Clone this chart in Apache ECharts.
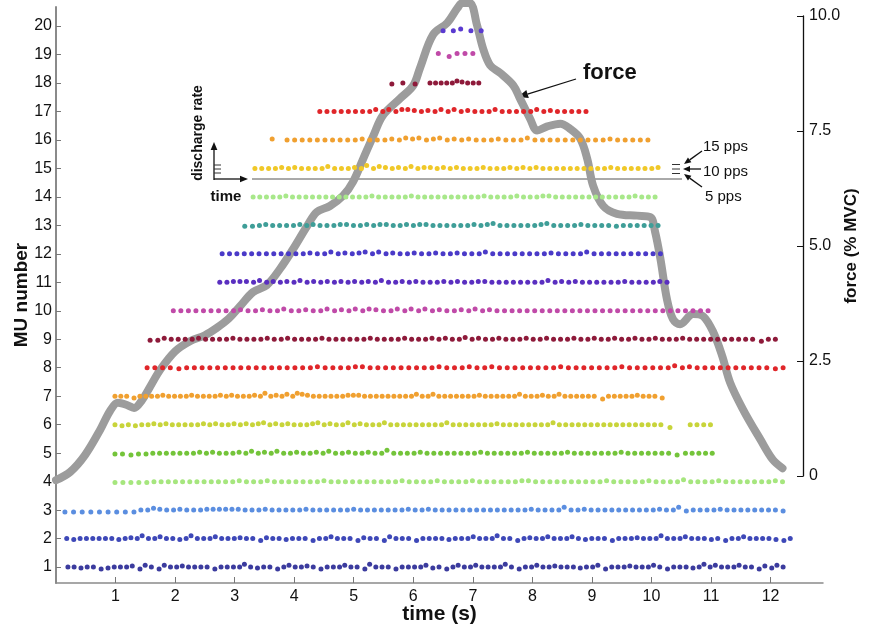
<!DOCTYPE html>
<html>
<head>
<meta charset="utf-8">
<script src="https://cdn.jsdelivr.net/npm/echarts@6/dist/echarts.min.js"></script>
<style>
  html, body { margin: 0; padding: 0; background: #fff; }
  #chart { width: 870px; height: 631px; }
</style>
</head>
<body>
<div id="chart"></div>
<script>
// motor unit rows, bottom to top
const muNumbers = [1, 2, 3, 4, 5, 6, 7, 8, 9, 10, 11, 12, 13, 14, 15, 16, 17, 18, 19, 20];
const muColors = [
    '#3b3b9e', '#3e48b8', '#5b8ee0', '#a6e67e', '#74c43a',
    '#c8d43a', '#f0a030', '#e0262a', '#8e1a3a', '#c04aa8',
    '#5a2fc0', '#4a3ac8', '#3f9e98', '#a8e88a', '#f0c828',
    '#f0a030', '#e0262a', '#8e1a3a', '#c04aa8', '#5a3ad0'
];
// spike trains: [onset s, offset s, instantaneous rate codes (pps = 5 + digit)]
const muTrains = [
    [[0.20, 12.21, '5545534555 6375375565 5553555585 4553575565 3555755385 5535555745 3575575555 8535575565 5545573555 6555753555 4585755575 536475']],
    [[0.18, 12.33, '5455555545 6585575545 8555755565 5365545553 5575553655 3755535555 4555755585 5356557555 7545553555 6555855575 5545355755 55435']],
    [[0.15, 12.21, '3333333335 5765565556 6666655565 5555655555 5655555556 5565555555 5555555655 5585565555 5555556558 4555565555 55554']],
    [[0.99, 12.20, '4444455555 5555555655 5655555556 5555555555 6555565555 6555555665 5555555556 5555565555 7555565555 55565']],
    [[0.99, 10.43, '4434455555 5565655565 7565755655 6575565565 5855556555 5555565555 5565555565 5555556555 55553'], [10.57, 11.02, '55555']],
    [[0.99, 10.31, '5454556565 5555656556 5656756565 5567565575 6555755555 5555755555 5565555555 5755555555 5555555552'], [10.65, 10.99, '5555']],
    [[0.99, 10.18, '5553555565 5556555565 6555658565 7587655555 5666555555 5557557555 5555655555 5755565575 5555525555 565553']],
    [[1.53, 12.21, '5555455555 5555555555 5565555665 5555555565 5565565555 5555655555 5565555557 5655555555 5545']],
    [[1.58, 12.08, '4465555655 5565555655 6555565555 5565555655 5656557565 5655565565 5565565565 5655655565 5555555553 55']],
    [[1.97, 10.95, '5555555556 5565575565 5756575765 5757575655 6575655555 5555555555 5555555555 5555']],
    [[2.75, 10.26, '5566657565 6575656565 6565755656 5556565566 5555555575 6565555556 555565']],
    [[2.79, 10.15, '5555555555 5565575656 7575655655 6556555755 5555556555 5755555555 55']],
    [[3.17, 10.11, '4456555565 6555665565 6655656655 5555656755 5555675555 6555545555 55']],
    [[3.31, 10.06, '5555565555 5555555565 5555655555 5555565555 6555665555 5555555565 55']],
    [[3.34, 10.11, '5555656555 5755565857 6565756656 5655565556 5656555555 5555655555 56']],
    [[3.63, 3.63, '6'], [3.88, 9.94, '5555555555 6555657675 6756565556 5557555555 5555655555']],
    [[4.43, 8.90, '5555555575 7577656575 7565557555 5575655555']],
    [[5.64, 6.03, '454'], [6.28, 7.10, '5555576555']],
    [[6.42, 7.00, '63666']],
    [[6.50, 7.14, '00200']]
];
// force trace (% MVC) against time (s)
const forceTime = [
    0.0, 0.24, 0.49, 0.74, 0.91, 1.04, 1.18, 1.31, 1.44, 1.58, 1.75, 2.0, 2.25, 2.5, 2.7, 2.9,
    3.09, 3.31, 3.54, 3.76, 3.98, 4.22, 4.38, 4.6, 4.82, 4.99, 5.16, 5.33, 5.49, 5.78, 6.0, 6.11,
    6.33, 6.57, 6.74, 6.82, 6.95, 7.07, 7.17, 7.29, 7.46, 7.68, 7.79, 7.96, 8.08, 8.25, 8.47, 8.63,
    8.8, 8.92, 9.02, 9.19, 9.42, 9.76, 9.98, 10.06, 10.15, 10.26, 10.36, 10.48, 10.7, 10.87, 11.04,
    11.19, 11.32, 11.54, 11.83, 12.04, 12.2
];
const forceValues = [
    -0.09, 0.09, 0.46, 1.0, 1.42, 1.59, 1.55, 1.48, 1.64, 1.94, 2.31, 2.71, 2.93, 3.06, 3.22, 3.42,
    3.69, 4.0, 4.15, 4.5, 4.93, 5.44, 5.74, 5.87, 6.09, 6.4, 6.9, 7.4, 7.84, 8.21, 8.49, 8.86,
    9.59, 9.85, 10.17, 10.28, 10.28, 9.8, 9.3, 8.93, 8.76, 8.49, 8.21, 7.77, 7.51, 7.6, 7.66, 7.55,
    7.34, 6.9, 6.31, 5.87, 5.7, 5.66, 5.63, 5.31, 4.72, 3.84, 3.41, 3.3, 3.52, 3.47, 3.12,
    2.6, 2.03, 1.44, 0.79, 0.35, 0.17
];
const timeTicks = [1, 2, 3, 4, 5, 6, 7, 8, 9, 10, 11, 12];

const FONT = '"Liberation Sans", Arial, sans-serif';
const PLOT_LEFT = 56, PLOT_RIGHT = 47, FORCE_RIGHT = 67;
const X_MAX = 12.88;
// force panel ends at its own axis, so its time range is cut to the same scale
const X_MAX_FORCE = X_MAX * (870 - PLOT_LEFT - FORCE_RIGHT) / (870 - PLOT_LEFT - PLOT_RIGHT);

// spike times: gaps proportional to 1/rate, fitted to the train's on/off times
function trainPoints(mu, segs) {
    const pts = [];
    segs.forEach(([t0, t1, codes]) => {
        const rates = codes.replace(/\s/g, '').split('').map(c => 5 + Number(c));
        const gaps = rates.slice(1).map(r => 1 / r);
        const total = gaps.reduce((a, b) => a + b, 0) || 1;
        let t = t0;
        rates.forEach((r, i) => {
            if (i > 0) t += gaps[i - 1] / total * (t1 - t0);
            pts.push([t, mu + (r - 10) / 30]);
        });
    });
    return pts;
}

function arrow(x1, y1, x2, y2, h) {
    const len = Math.hypot(x2 - x1, y2 - y1);
    const ux = (x2 - x1) / len, uy = (y2 - y1) / len, w = h * 0.42;
    const bx = x2 - ux * h, by = y2 - uy * h;
    return [
        { type: 'line', shape: { x1: x1, y1: y1, x2: bx, y2: by }, style: { stroke: '#111', lineWidth: 1.3 } },
        { type: 'polygon', shape: { points: [[x2, y2], [bx - uy * w, by + ux * w], [bx + uy * w, by - ux * w]] }, style: { fill: '#111' } }
    ];
}

function label(text, x, y, size, bold, align, rot) {
    return {
        type: 'text', x: x, y: y, rotation: rot || 0,
        style: {
            text: text, fill: '#111', fontFamily: FONT, fontSize: size,
            fontWeight: bold ? 'bold' : 'normal', align: align || 'left', verticalAlign: 'middle'
        }
    };
}

const chart = echarts.init(document.getElementById('chart'));

const scatterSeries = muNumbers.map((mu, i) => ({
    type: 'scatter',
    xAxisIndex: 0, yAxisIndex: 0,
    data: trainPoints(mu, muTrains[i]),
    symbolSize: 5,
    itemStyle: { color: muColors[i], opacity: 1 },
    z: 3
}));

const graphics = [].concat(
    label('force', 583, 73, 22, true),
    arrow(576, 79, 518, 97, 10),
    // inset: discharge rate / time axes
    arrow(214, 180, 214, 142, 8),
    arrow(214, 179, 248, 179, 8),
    [165, 169, 173].map(y => ({ type: 'line', shape: { x1: 214, y1: y, x2: 221, y2: y }, style: { stroke: '#333', lineWidth: 1 } })),
    label('discharge rate', 198, 133, 14, true, 'center', Math.PI / 2),
    label('time', 226, 197, 15, true, 'center'),
    { type: 'line', shape: { x1: 252, y1: 179, x2: 682, y2: 179 }, style: { stroke: '#555', lineWidth: 1 } },
    [164.5, 169, 173.5].map(y => ({ type: 'line', shape: { x1: 672, y1: y, x2: 680, y2: y }, style: { stroke: '#333', lineWidth: 1 } })),
    arrow(702, 151, 684, 164, 7),
    arrow(701, 169, 683, 169, 7),
    arrow(702, 187, 684, 174, 7),
    label('15 pps', 703, 147, 15, false),
    label('10 pps', 703, 172, 15, false),
    label('5 pps', 705, 197, 15, false)
);

const option = {
    animation: false,
    textStyle: { fontFamily: FONT },
    grid: [
        { left: PLOT_LEFT, right: PLOT_RIGHT, top: 7, bottom: 48, outerBoundsMode: 'none' },
        { left: PLOT_LEFT, right: FORCE_RIGHT, top: 16, height: 460, outerBoundsMode: 'none' }
    ],
    xAxis: [
        {
            type: 'value', gridIndex: 0, min: 0, max: X_MAX,
            name: 'time (s)', nameLocation: 'middle', nameGap: 21, nameMoveOverlap: false,
            nameTextStyle: { fontSize: 21, fontWeight: 'bold', color: '#111' },
            axisLine: { onZero: false, lineStyle: { color: '#8a8a8a', width: 1.5 } },
            axisTick: { inside: true, length: 6, customValues: timeTicks, lineStyle: { color: '#777' } },
            axisLabel: { customValues: timeTicks, fontSize: 16, color: '#111', margin: 6 },
            splitLine: { show: false }
        },
        { type: 'value', gridIndex: 1, min: 0, max: X_MAX_FORCE, show: false }
    ],
    yAxis: [
        {
            type: 'value', gridIndex: 0, min: 0.44, max: 20.67,
            name: 'MU number', nameLocation: 'middle', nameRotate: 90, nameGap: 25, nameMoveOverlap: false,
            nameTextStyle: { fontSize: 19, fontWeight: 'bold', color: '#111' },
            axisLine: { show: true, onZero: false, lineStyle: { color: '#8a8a8a', width: 2 } },
            axisTick: { inside: true, length: 5, customValues: muNumbers, lineStyle: { color: '#777' } },
            axisLabel: { customValues: muNumbers, fontSize: 16, color: '#111', margin: 4 },
            splitLine: { show: false }
        },
        {
            type: 'value', gridIndex: 1, position: 'right',
            min: 0, max: 10, interval: 2.5,
            name: 'force (% MVC)', nameLocation: 'middle', nameRotate: 90, nameGap: 40, nameMoveOverlap: false,
            nameTextStyle: { fontSize: 17, fontWeight: 'bold', color: '#111' },
            axisLine: { show: true, onZero: false, lineStyle: { color: '#111', width: 1.3 } },
            axisTick: { show: true, inside: true, length: 6, lineStyle: { color: '#111' } },
            axisLabel: { fontSize: 16, color: '#111', margin: 6, formatter: v => v === 0 ? '0' : v.toFixed(1) },
            splitLine: { show: false }
        }
    ],
    graphic: { elements: graphics },
    series: [
        {
            type: 'line',
            xAxisIndex: 1, yAxisIndex: 1,
            data: forceTime.map((t, i) => [t, forceValues[i]]),
            smooth: 0.35,
            showSymbol: false,
            clip: false,
            lineStyle: { color: '#9c9c9c', width: 8, cap: 'round', join: 'round' },
            z: 2
        }
    ].concat(scatterSeries)
};

chart.setOption(option);
</script>
</body>
</html>
